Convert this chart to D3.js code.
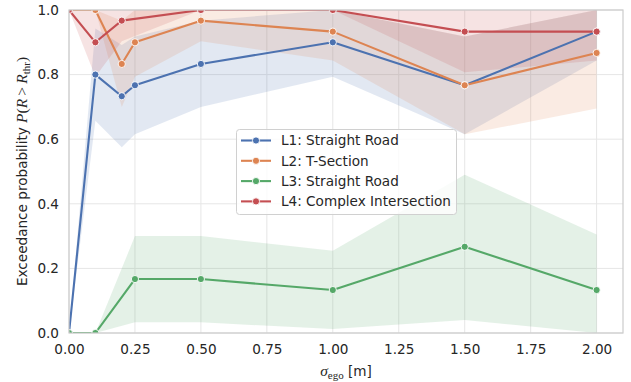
<!DOCTYPE html>
<html><head><meta charset="utf-8">
<script src="https://cdn.jsdelivr.net/npm/d3@7"></script>
<style>body{margin:0;background:#fff}</style>
</head><body><svg id="c" width="631" height="382"></svg>
<script>
// ---- data ----
const xTicks = [0, 0.25, 0.5, 0.75, 1.0, 1.25, 1.5, 1.75, 2.0];
const yTicks = [0, 0.2, 0.4, 0.6, 0.8, 1.0];
const seriesNames = ["L1: Straight Road", "L2: T-Section", "L3: Straight Road", "L4: Complex Intersection"];
const seriesColors = ["#4c72b0", "#dd8452", "#55a868", "#c44e52"];

const l1X  = [0, 0.1, 0.2, 0.25, 0.5, 1.0, 1.5, 2.0];
const l1Y  = [0, 0.8, 0.733, 0.767, 0.833, 0.9, 0.767, 0.933];
const l1Lo = [0, 0.657, 0.575, 0.615, 0.70, 0.793, 0.615, 0.844];
const l1Hi = [0, 0.943, 0.892, 0.918, 0.967, 1.0, 0.918, 1.0];

const l2X  = [0, 0.1, 0.2, 0.25, 0.5, 1.0, 1.5, 2.0];
const l2Y  = [1, 1, 0.833, 0.9, 0.967, 0.933, 0.767, 0.867];
const l2Lo = [1, 1, 0.70, 0.793, 0.903, 0.844, 0.615, 0.695];
const l2Hi = [1, 1, 0.967, 1.0, 1.0, 1.0, 0.918, 1.0];

const l3X  = [0, 0.1, 0.25, 0.5, 1.0, 1.5, 2.0];
const l3Y  = [0, 0, 0.167, 0.167, 0.133, 0.267, 0.133];
const l3Lo = [0, 0, 0.033, 0.033, 0.012, 0.04, 0];
const l3Hi = [0, 0, 0.30, 0.30, 0.255, 0.49, 0.305];

const l4X  = [0, 0.1, 0.2, 0.5, 1.0, 1.5, 2.0];
const l4Y  = [1, 0.9, 0.967, 1, 1, 0.933, 0.933];
const l4Lo = [1, 0.793, 0.903, 1, 1, 0.807, 0.844];
const l4Hi = [1, 1, 1, 1, 1, 1, 1];

const series = [
  {x: l1X, y: l1Y, lo: l1Lo, hi: l1Hi},
  {x: l2X, y: l2Y, lo: l2Lo, hi: l2Hi},
  {x: l3X, y: l3Y, lo: l3Lo, hi: l3Hi},
  {x: l4X, y: l4Y, lo: l4Lo, hi: l4Hi}
].map((s, i) => ({...s, name: seriesNames[i], color: seriesColors[i],
  pts: s.x.map((xv, j) => ({x: xv, y: s.y[j], lo: s.lo[j], hi: s.hi[j]}))}));

// ---- layout ----
const L = 69, R = 623, T = 10, B = 333;
const svg = d3.select("#c");
const x = d3.scaleLinear().domain([0, 2.1]).range([L, R]);
const y = d3.scaleLinear().domain([0, 1]).range([B, T]);
const textCol = "#262626";
const font = "DejaVu Sans, sans-serif";
const fs = "13.6px";

svg.append("defs").append("clipPath").attr("id", "clip")
  .append("rect").attr("x", L).attr("y", T).attr("width", R - L).attr("height", B - T);

// grid
const grid = svg.append("g");
grid.selectAll(".gx").data(xTicks).join("line")
  .attr("x1", d => x(d)).attr("x2", d => x(d)).attr("y1", T).attr("y2", B)
  .attr("stroke", "#e6e6e6").attr("stroke-width", 1);
grid.selectAll(".gy").data(yTicks).join("line")
  .attr("y1", d => y(d)).attr("y2", d => y(d)).attr("x1", L).attr("x2", R)
  .attr("stroke", "#e6e6e6").attr("stroke-width", 1);

const plot = svg.append("g").attr("clip-path", "url(#clip)");

// bands
const area = d3.area().x(d => x(d.x)).y0(d => y(d.lo)).y1(d => y(d.hi));
series.forEach(s => {
  plot.append("path").attr("d", area(s.pts)).attr("fill", s.color).attr("fill-opacity", 0.16);
});
// lines & markers
const line = d3.line().x(d => x(d.x)).y(d => y(d.y));
series.forEach(s => {
  plot.append("path").attr("d", line(s.pts)).attr("fill", "none")
    .attr("stroke", s.color).attr("stroke-width", 2.1).attr("stroke-linejoin", "round");
  plot.selectAll(null).data(s.pts).join("circle")
    .attr("cx", d => x(d.x)).attr("cy", d => y(d.y)).attr("r", 3.6)
    .attr("fill", s.color).attr("stroke", "#fff").attr("stroke-width", 0.9);
});

// spines
svg.append("rect").attr("x", L).attr("y", T).attr("width", R - L).attr("height", B - T)
  .attr("fill", "none").attr("stroke", "#cccccc").attr("stroke-width", 1.2);

// axes
const xAxis = svg.append("g").attr("transform", `translate(0,${B})`)
  .call(d3.axisBottom(x).tickValues(xTicks).tickFormat(d3.format(".2f")).tickSize(0).tickPadding(11));
const yAxis = svg.append("g").attr("transform", `translate(${L},0)`)
  .call(d3.axisLeft(y).tickValues(yTicks).tickFormat(d3.format(".1f")).tickSize(0).tickPadding(10));
[xAxis, yAxis].forEach(a => {
  a.select(".domain").remove();
  a.selectAll("text").attr("fill", textCol).style("font-family", font).style("font-size", fs);
});

// x label
const xl = svg.append("text").attr("x", 346).attr("y", 376).attr("text-anchor", "middle")
  .attr("fill", textCol).style("font-size", fs).style("font-family", font);
xl.append("tspan").style("font-family", "Liberation Serif, serif").style("font-style", "italic")
  .style("font-size", "15.5px").text("σ");
xl.append("tspan").style("font-family", "Liberation Serif, serif").style("font-size", "11px")
  .attr("dy", 3).text("ego");
xl.append("tspan").attr("dy", -3).text("\u00a0[m]");

// y label
const yl = svg.append("text").attr("transform", `translate(27,${(T + B) / 2}) rotate(-90)`)
  .attr("text-anchor", "middle").attr("fill", textCol)
  .style("font-size", fs).style("font-family", font);
yl.append("tspan").text("Exceedance probability\u00a0");
const mf = "Liberation Serif, serif";
yl.append("tspan").style("font-family", mf).style("font-style", "italic").style("font-size", "15.5px").text("P");
yl.append("tspan").style("font-family", mf).style("font-size", "15.5px").text("(");
yl.append("tspan").style("font-family", mf).style("font-style", "italic").style("font-size", "15.5px").text("R");
yl.append("tspan").style("font-family", mf).style("font-size", "15.5px").text("\u2009>\u2009");
yl.append("tspan").style("font-family", mf).style("font-style", "italic").style("font-size", "15.5px").text("R");
yl.append("tspan").style("font-family", mf).style("font-size", "11px").attr("dy", 3).text("thr");
yl.append("tspan").style("font-family", mf).style("font-size", "15.5px").attr("dy", -3).text(")");

// legend
const lg = svg.append("g");
lg.append("rect").attr("x", 236.5).attr("y", 129.5).attr("width", 220).attr("height", 85)
  .attr("rx", 3).attr("fill", "#fff").attr("fill-opacity", 0.8).attr("stroke", "#d0d0d0").attr("stroke-width", 1);
series.forEach((s, i) => {
  const cy = 140.5 + i * 20.3;
  lg.append("line").attr("x1", 241).attr("x2", 271).attr("y1", cy).attr("y2", cy)
    .attr("stroke", s.color).attr("stroke-width", 2.1);
  lg.append("circle").attr("cx", 256).attr("cy", cy).attr("r", 3.6)
    .attr("fill", s.color).attr("stroke", "#fff").attr("stroke-width", 0.9);
  lg.append("text").attr("x", 281).attr("y", cy + 4.8).attr("fill", textCol)
    .style("font-family", font).style("font-size", fs).text(s.name);
});
</script></body></html>
